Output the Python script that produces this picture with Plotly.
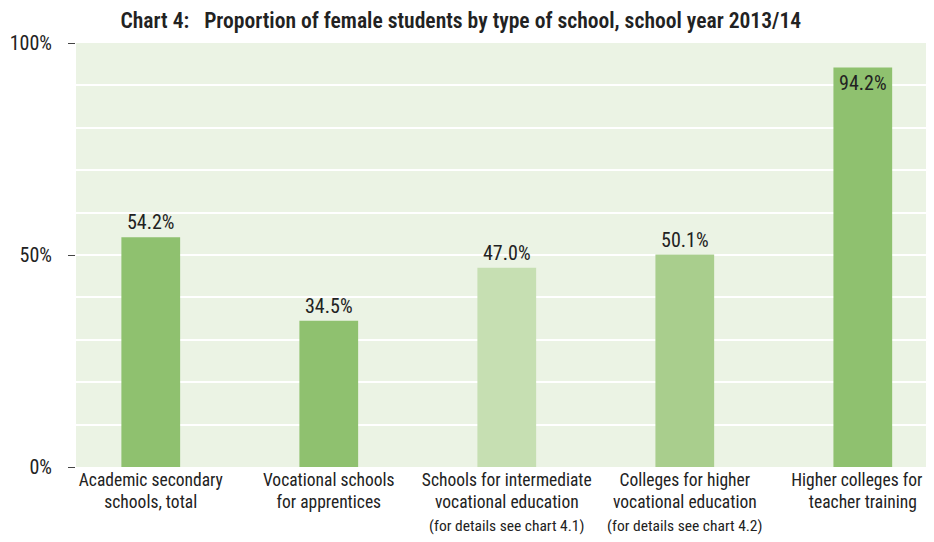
import plotly.graph_objects as go

# data
categories = [
    "Academic secondary<br>schools, total",
    "Vocational schools<br>for apprentices",
    "Schools for intermediate<br>vocational education<br><span style='font-size:15.5px'>(for details see chart 4.1)</span>",
    "Colleges for higher<br>vocational education<br><span style='font-size:15.5px'>(for details see chart 4.2)</span>",
    "Higher colleges for&nbsp;&nbsp;&nbsp;<br>teacher training",
]
share_female = [54.2, 34.5, 47.0, 50.1, 94.2]
bar_colors = ["#8fc16f", "#8fc16f", "#c6dfb2", "#a9ce8d", "#8fc16f"]
label_pos = ["outside", "outside", "outside", "outside", "inside"]
y_ticks = [0, 50, 100]
y_tick_labels = ["0%", "50%", "100%"]

FONT = "Liberation Sans Narrow, Roboto Condensed, Arial Narrow, sans-serif"

fig = go.Figure()
fig.add_trace(go.Bar(
    x=list(range(len(categories))),
    y=share_female,
    width=0.33,
    marker=dict(color=bar_colors, line=dict(width=0)),
    text=[f"{v:.1f}%" for v in share_female],
    textposition=label_pos,
    insidetextanchor="end",
    textfont=dict(family=FONT, size=20, color="#222222"),
    cliponaxis=False,
    showlegend=False,
))

# page body has an 8px margin, so the figure is a bit smaller than the window
fig.update_layout(
    width=926, height=534,
    margin=dict(l=68, r=0, t=35, b=75),
    paper_bgcolor="white",
    plot_bgcolor="#ebf3e4",
    font=dict(family=FONT, size=17, color="#222222"),
    title=dict(
        text="Chart 4:   Proportion of female students by type of school, school year 2013/14",
        x=0.489, xanchor="center", y=0.99, yanchor="top",
        font=dict(family=FONT, size=21.6, color="#222222", weight=600),
    ),
)

fig.update_xaxes(
    tickmode="array",
    tickvals=list(range(len(categories))),
    ticktext=categories,
    range=[-0.42, 4.4],
    showgrid=False, zeroline=False, showline=False,
    ticks="",
    automargin=False,
    ticklabeloverflow="allow",
    tickfont=dict(family=FONT, size=17.5, color="#222222"),
)

fig.update_yaxes(
    range=[0, 100],
    tickvals=y_ticks,
    ticktext=y_tick_labels,
    showgrid=True, gridcolor="white", gridwidth=2,
    minor=dict(dtick=10, showgrid=True, gridcolor="white", gridwidth=2),
    zeroline=False, showline=False,
    ticks="outside", ticklen=7, tickcolor="#444444", tickwidth=1,
    automargin=False,
    tickfont=dict(family=FONT, size=20, color="#222222"),
    ticklabelstandoff=12,
)

fig.write_html("out.html")
